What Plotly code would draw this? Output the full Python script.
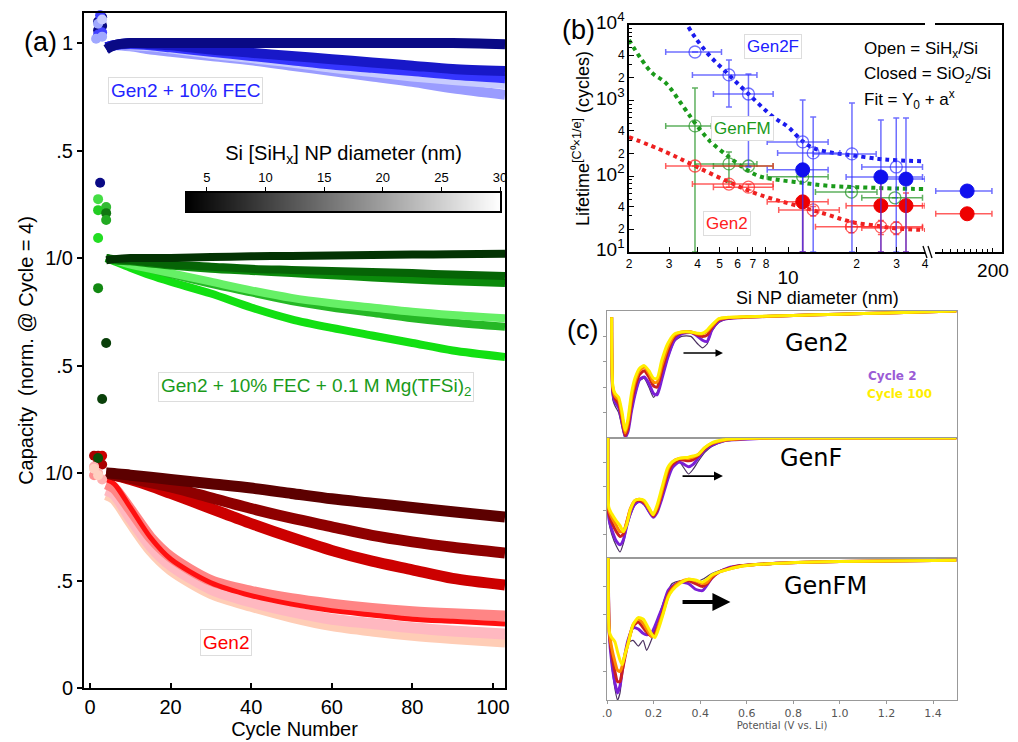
import math
import plotly.graph_objects as go

W, H = 1018, 742


def PX(x):
    return x / W


def PY(y):
    return 1 - y / H


# ---------------- Panel (a) data ----------------
cycles = [4, 6, 10, 15, 20, 30, 40, 50, 60, 70, 80, 90, 103]

# Gen2 + 10% FEC (stacked with offset 2)
blue_vals = {
    "periwinkle": [0.98, 0.99, 0.985, 0.97, 0.96, 0.94, 0.92, 0.895, 0.87, 0.845, 0.82, 0.79, 0.76],
    "verylight": [0.98, 0.99, 0.99, 0.985, 0.975, 0.95, 0.93, 0.91, 0.885, 0.865, 0.845, 0.828, 0.81],
    "blue": [0.98, 0.99, 0.995, 0.99, 0.98, 0.96, 0.94, 0.92, 0.90, 0.885, 0.87, 0.853, 0.837],
    "darkblue": [0.98, 0.99, 1.0, 0.995, 0.99, 0.97, 0.955, 0.94, 0.925, 0.91, 0.895, 0.88, 0.87],
    "navy": [0.97, 0.99, 1.0, 1.0, 1.0, 1.0, 1.0, 1.0, 1.0, 1.0, 1.0, 1.0, 0.995],
}
blue_names = ["periwinkle", "verylight", "blue", "darkblue", "navy"]
blue_colors = ["#9a9cff", "#c8ccff", "#3535ff", "#1818c8", "#0a0a85"]
blue_early_x = [2, 3, 3, 2, 2, 3, 2.5, 1.5, 2, 3, 3, 2.5]
blue_early_y = [1.10, 1.08, 1.12, 1.06, 1.04, 1.05, 1.13, 1.02, 1.09, 1.03, 1.11, 0.35]
blue_early_c = ["#0a0a85", "#0a0a85", "#0a0a85", "#0a0a85", "#4040ff", "#4040ff", "#4040ff",
                "#a0a8ff", "#a0a8ff", "#a0a8ff", "#c8ccff", "#0a0a85"]

# Gen2 + 10% FEC + 0.1 M Mg(TFSi)2 (offset 1)
green_names = ["lime", "medium", "light", "green", "darkgreen", "darkest"]
green_colors = ["#12e012", "#25b825", "#66f066", "#0b8a0b", "#066406", "#033303"]
green_vals = {
    "lime": [1.0, 0.985, 0.955, 0.92, 0.89, 0.835, 0.77, 0.715, 0.675, 0.64, 0.605, 0.57, 0.54],
    "medium": [1.0, 0.99, 0.97, 0.95, 0.925, 0.88, 0.84, 0.80, 0.77, 0.745, 0.72, 0.70, 0.68],
    "light": [1.0, 0.99, 0.97, 0.95, 0.93, 0.89, 0.85, 0.815, 0.79, 0.77, 0.75, 0.735, 0.72],
    "green": [1.0, 0.99, 0.985, 0.975, 0.965, 0.95, 0.94, 0.93, 0.92, 0.91, 0.90, 0.892, 0.884],
    "darkgreen": [1.0, 0.995, 0.99, 0.98, 0.97, 0.96, 0.95, 0.945, 0.94, 0.935, 0.93, 0.923, 0.916],
    "darkest": [0.99, 0.995, 1.0, 1.0, 1.0, 1.005, 1.008, 1.01, 1.012, 1.014, 1.016, 1.018, 1.02],
}
green_early_x = [2, 4, 2, 4, 4, 2, 2, 4, 3, 2]
green_early_y = [1.274, 1.237, 1.223, 1.209, 1.177, 1.093, 0.86, 0.605, 0.344, 0.07]
green_early_c = ["#44dd44", "#33bb33", "#22cc22", "#117711", "#22aa22", "#22dd22",
                 "#118811", "#0a400a", "#0a400a", "#0a500a"]

# Gen2 (offset 0)
red_names = ["peach", "pink", "salmon", "brightred", "red", "darkred", "maroon"]
red_colors = ["#ffcdb6", "#ffb8c0", "#ff8585", "#ff1010", "#cc0000", "#8e0000", "#5c0000"]
red_widths = [11, 11, 11, 5, 11, 11, 11]
red_vals = {
    "peach": [0.90, 0.88, 0.77, 0.64, 0.55, 0.44, 0.38, 0.33, 0.29, 0.265, 0.245, 0.23, 0.214],
    "pink": [0.92, 0.90, 0.79, 0.66, 0.57, 0.46, 0.40, 0.355, 0.32, 0.30, 0.28, 0.265, 0.251],
    "salmon": [0.95, 0.93, 0.83, 0.70, 0.61, 0.50, 0.45, 0.415, 0.39, 0.37, 0.355, 0.345, 0.335],
    "brightred": [0.97, 0.95, 0.84, 0.70, 0.60, 0.49, 0.43, 0.39, 0.36, 0.34, 0.32, 0.31, 0.298],
    "red": [1.0, 0.99, 0.97, 0.94, 0.905, 0.835, 0.765, 0.70, 0.64, 0.59, 0.55, 0.51, 0.479],
    "darkred": [1.0, 0.99, 0.975, 0.955, 0.935, 0.885, 0.835, 0.79, 0.75, 0.71, 0.68, 0.655, 0.628],
    "maroon": [1.0, 0.998, 0.99, 0.98, 0.97, 0.95, 0.93, 0.905, 0.88, 0.86, 0.84, 0.82, 0.795],
}
red_early_x = [1, 2, 3, 2, 3, 1, 2, 3, 1, 1, 2]
red_early_y = [1.08, 1.08, 1.08, 1.05, 1.04, 1.03, 1.00, 0.97, 0.99, 1.02, 0.99]
red_early_c = ["#aa0000", "#aa0000", "#cc0000", "#8e0000", "#aa0000", "#ffb0b0",
               "#ffb0b0", "#ffb0b0", "#ff9090", "#ffd0c0", "#ffd0c0"]

a_yticks = [0, 0.5, 1, 1.5, 2, 2.5, 3]
a_yticktext = ["0", ".5", "1/0", ".5", "1/0", ".5", "1"]
a_xticks = [0, 20, 40, 60, 80, 100]
cbar_ticks = [5, 10, 15, 20, 25, 30]
cbar_range = [3.3, 30]

# ---------------- Panel (b) data ----------------
b_open_blue = dict(x=[3.9, 5.5, 6.7, 11.6, 12.9, 19.1, 29.9],
                   y=[4400, 2190, 1225, 285, 204, 198, 133],
                   xlo=[2.9, 3.8, 4.7, 8.1, 9.0, 12.9, 21.1],
                   xhi=[5.1, 7.3, 8.6, 15.0, 16.9, 24.4, 39.0],
                   ylo=[4400, 826, 133, 10, 10, 10, 10],
                   yhi=[4400, 3450, 2250, 1020, 610, 934, 590])
b_closed_blue = dict(x=[11.6, 25.6, 33.0], y=[122, 98, 92],
                     xlo=[8.1, 18.0, 25.6], xhi=[15.0, 39.0, 40.0],
                     ylo=[10, 10, 10], yhi=[122, 556, 590])
b_open_green = dict(x=[3.9, 5.5, 6.7, 11.6, 19.0, 29.5],
                    y=[464, 146, 137, 99, 62, 52],
                    xlo=[2.9, 3.9, 4.7, 8.1, 13.2, 21.1],
                    xhi=[4.6, 7.3, 8.6, 15.0, 24.6, 39.0],
                    ylo=[10, 84, 137, 99, 62, 52],
                    yhi=[1470, 209, 137, 99, 62, 52])
b_open_red = dict(x=[3.9, 5.5, 6.7, 12.9, 19.0, 25.6, 29.9],
                  y=[137, 79, 72, 36, 21.5, 21.5, 20.8],
                  xlo=[2.9, 3.8, 4.7, 9.1, 13.2, 18.0, 21.1],
                  xhi=[8.6, 8.6, 8.6, 16.8, 25.5, 39.0, 39.0],
                  ylo=[137, 72, 66, 30, 18, 17, 17],
                  yhi=[137, 86, 78, 40, 25, 26, 25])
b_closed_red = dict(x=[11.6, 25.6, 33.0], y=[46, 41, 41],
                    xlo=[8.1, 18.0, 25.6], xhi=[15.0, 39.0, 40.0],
                    ylo=[10, 10, 10], yhi=[54, 112, 60])
b_far_blue = dict(x=[154], y=[64], xlo=[112], xhi=[198], ylo=[64], yhi=[64])
b_far_red = dict(x=[154], y=[32], xlo=[112], xhi=[198], ylo=[32], yhi=[32])

fit_blue_x = [3.65, 3.9, 4.5, 5.5, 6.7, 8.6, 10, 11.6, 12.9, 15.8, 19, 25, 30, 40]
fit_blue_y = [9400, 6900, 4000, 2190, 1225, 610, 450, 290, 237, 204, 190, 170, 163, 158]
fit_green_x = [2.0, 2.5, 2.9, 3.5, 3.9, 4.5, 5.5, 6.5, 7.5, 9, 11.6, 15, 20, 30, 40]
fit_green_y = [6340, 2400, 1715, 800, 507, 300, 180, 125, 100, 90, 82, 75, 72, 69, 68]
fit_red_x = [2, 2.9, 3.9, 5.5, 7.5, 11.6, 15, 19, 25, 30, 40]
fit_red_y = [330, 210, 137, 84, 57, 39, 31, 25, 22, 20.5, 19.5]

b_xticks = [2, 3, 4, 5, 6, 7, 8, 10, 20, 30, 40]
b_xticktext = ["2", "3", "4", "5", "6", "7", "8",
               "<br><span style='font-size:19px'>10</span>", "2", "3", "4"]
b_yticks = [10, 20, 40, 100, 200, 400, 1000, 2000, 4000, 10000]
b_yticktext = ["<span style='font-size:19px'>10<sup>1</sup></span>", "2", "4",
               "<span style='font-size:19px'>10<sup>2</sup></span>", "2", "4",
               "<span style='font-size:19px'>10<sup>3</sup></span>", "2", "4",
               "<span style='font-size:19px'>10<sup>4</sup></span>"]
b_yminor = [30, 50, 60, 70, 80, 90, 300, 500, 600, 700, 800, 900,
            3000, 5000, 6000, 7000, 8000, 9000]
b_x3ticks = [200]
b_x3ticktext = ["200"]
b_x3minor = [110, 120, 130, 140, 150, 160, 170, 180, 190]

# ---------------- Panel (c) data ----------------
c_curve_colors = ["#4a3060", "#7a1fd6", "#cc2020", "#ff8c00", "#ffee00"]
c_curve_widths = [1.2, 3, 3, 3, 3]

c_top_V = [0.02, 0.025, 0.035, 0.05, 0.065, 0.078, 0.09, 0.105, 0.12, 0.14, 0.16, 0.18, 0.2, 0.215,
           0.235, 0.26, 0.29, 0.32, 0.36, 0.39, 0.41, 0.43, 0.45, 0.48, 0.52, 0.6, 0.8, 1.0, 1.2, 1.5]
c_top = [
    [0.95, 0.3, 0.25, 0.2, 0.08, 0.0, 0.04, 0.2, 0.33, 0.45, 0.47, 0.4, 0.32, 0.36, 0.46, 0.62, 0.76,
     0.8, 0.8, 0.74, 0.71, 0.74, 0.84, 0.91, 0.94, 0.95, 0.965, 0.975, 0.985, 1.0],
    [0.95, 0.35, 0.28, 0.24, 0.12, 0.01, 0.05, 0.21, 0.34, 0.46, 0.48, 0.43, 0.35, 0.34, 0.46, 0.63, 0.77,
     0.82, 0.83, 0.8, 0.77, 0.76, 0.85, 0.92, 0.94, 0.95, 0.965, 0.975, 0.985, 1.0],
    [0.95, 0.38, 0.31, 0.27, 0.15, 0.02, 0.08, 0.27, 0.4, 0.5, 0.53, 0.48, 0.41, 0.4, 0.53, 0.68, 0.8,
     0.83, 0.835, 0.81, 0.8, 0.81, 0.87, 0.93, 0.945, 0.952, 0.965, 0.975, 0.985, 1.0],
    [0.95, 0.4, 0.33, 0.3, 0.17, 0.04, 0.12, 0.31, 0.44, 0.53, 0.56, 0.51, 0.44, 0.44, 0.57, 0.71, 0.81,
     0.835, 0.835, 0.82, 0.82, 0.84, 0.88, 0.935, 0.948, 0.953, 0.965, 0.975, 0.985, 1.0],
    [0.95, 0.41, 0.35, 0.32, 0.2, 0.06, 0.15, 0.35, 0.47, 0.55, 0.57, 0.53, 0.47, 0.47, 0.61, 0.74, 0.82,
     0.835, 0.835, 0.825, 0.825, 0.85, 0.89, 0.94, 0.95, 0.955, 0.965, 0.975, 0.985, 1.0],
]
c_mid_V = [0.004, 0.008, 0.02, 0.04, 0.056, 0.07, 0.085, 0.1, 0.12, 0.14, 0.16, 0.18, 0.198, 0.215,
           0.235, 0.26, 0.28, 0.31, 0.35, 0.37, 0.39, 0.42, 0.45, 0.5, 0.55, 0.7, 1.0, 1.5]
c_mid = [
    [1.0, 0.3, 0.2, 0.1, 0.05, 0.12, 0.25, 0.35, 0.44, 0.47, 0.44, 0.38, 0.34, 0.4, 0.5, 0.66, 0.76,
     0.8, 0.7, 0.74, 0.8, 0.88, 0.93, 0.97, 0.985, 1.0, 1.0, 1.0],
    [1.0, 0.33, 0.24, 0.14, 0.11, 0.15, 0.27, 0.37, 0.45, 0.47, 0.45, 0.39, 0.34, 0.38, 0.49, 0.65, 0.75,
     0.8, 0.76, 0.78, 0.83, 0.9, 0.94, 0.975, 0.985, 1.0, 1.0, 1.0],
    [1.0, 0.37, 0.3, 0.22, 0.18, 0.2, 0.3, 0.4, 0.47, 0.48, 0.46, 0.41, 0.35, 0.4, 0.53, 0.7, 0.78,
     0.82, 0.81, 0.82, 0.85, 0.91, 0.95, 0.98, 0.99, 1.0, 1.0, 1.0],
    [1.0, 0.4, 0.34, 0.27, 0.22, 0.22, 0.3, 0.41, 0.48, 0.49, 0.47, 0.41, 0.36, 0.42, 0.55, 0.73, 0.8,
     0.83, 0.83, 0.84, 0.86, 0.92, 0.955, 0.98, 0.99, 1.0, 1.0, 1.0],
    [1.0, 0.42, 0.37, 0.31, 0.27, 0.22, 0.28, 0.4, 0.48, 0.49, 0.48, 0.42, 0.36, 0.44, 0.58, 0.75, 0.8,
     0.83, 0.84, 0.85, 0.86, 0.92, 0.96, 0.985, 0.995, 1.0, 1.0, 1.0],
]
c_bot_V = [0.005, 0.01, 0.02, 0.034, 0.045, 0.056, 0.065, 0.077, 0.09, 0.112, 0.134, 0.155, 0.17, 0.19,
           0.206, 0.225, 0.24, 0.262, 0.28, 0.313, 0.35, 0.38, 0.41, 0.43, 0.45, 0.48, 0.52, 0.57, 0.7,
           1.0, 1.5]
c_bot = [
    [1.0, 0.45, 0.25, 0.08, 0.0, 0.05, 0.2, 0.32, 0.4, 0.42, 0.38, 0.42, 0.35, 0.42, 0.5, 0.6, 0.68,
     0.77, 0.82, 0.84, 0.84, 0.83, 0.85, 0.87, 0.89, 0.91, 0.93, 0.95, 0.965, 0.975, 0.985],
    [1.0, 0.46, 0.27, 0.12, 0.05, 0.1, 0.2, 0.32, 0.42, 0.51, 0.5, 0.47, 0.46, 0.47, 0.52, 0.6, 0.66,
     0.77, 0.8, 0.83, 0.82, 0.78, 0.77, 0.81, 0.86, 0.9, 0.93, 0.945, 0.96, 0.975, 0.985],
    [1.0, 0.47, 0.33, 0.2, 0.13, 0.13, 0.2, 0.3, 0.4, 0.52, 0.55, 0.51, 0.48, 0.45, 0.47, 0.55, 0.62,
     0.74, 0.79, 0.83, 0.84, 0.82, 0.8, 0.82, 0.86, 0.9, 0.925, 0.945, 0.96, 0.975, 0.985],
    [1.0, 0.48, 0.37, 0.27, 0.21, 0.2, 0.24, 0.32, 0.4, 0.53, 0.57, 0.54, 0.5, 0.45, 0.45, 0.54, 0.61,
     0.73, 0.78, 0.83, 0.85, 0.84, 0.82, 0.83, 0.87, 0.9, 0.92, 0.94, 0.96, 0.975, 0.985],
    [1.0, 0.48, 0.44, 0.41, 0.34, 0.28, 0.25, 0.32, 0.39, 0.53, 0.58, 0.57, 0.53, 0.47, 0.44, 0.52, 0.6,
     0.72, 0.77, 0.82, 0.85, 0.845, 0.83, 0.85, 0.88, 0.9, 0.92, 0.94, 0.96, 0.975, 0.985],
]
c_xticks = [0, 0.2, 0.4, 0.6, 0.8, 1.0, 1.2, 1.4]
c_xticktext = [".0", "0.2", "0.4", "0.6", "0.8", "1.0", "1.2", "1.4"]

# ---------------- Build figure ----------------
fig = go.Figure()
FONT = "Liberation Sans"
MPL = "DejaVu Sans"


def add_group(names, colors, vals, offset, widths):
    for n, c, w in zip(names, colors, widths):
        fig.add_trace(go.Scatter(
            x=cycles, y=[v + offset for v in vals[n]], mode="lines",
            line=dict(color=c, width=w, shape="spline", smoothing=0.8),
            xaxis="x", yaxis="y", hoverinfo="skip"))


add_group(red_names, red_colors, red_vals, 0, red_widths)
add_group(green_names, green_colors, green_vals, 1, [8] * 6)
add_group(blue_names, blue_colors, blue_vals, 2, [10] * 5)

for ex, ey, ec, off in [(red_early_x, red_early_y, red_early_c, 0),
                        (green_early_x, green_early_y, green_early_c, 1),
                        (blue_early_x, blue_early_y, blue_early_c, 2)]:
    fig.add_trace(go.Scatter(
        x=ex, y=[v + off for v in ey], mode="markers",
        marker=dict(color=ec, size=10, line=dict(width=0)),
        cliponaxis=False, xaxis="x", yaxis="y", hoverinfo="skip"))

# colour scale bar drawn as a smooth heatmap on its own axis
fig.add_trace(go.Heatmap(
    x=cbar_range, y=[0], z=[cbar_range], zsmooth="best",
    colorscale=[[0, "black"], [1, "white"]], showscale=False,
    xaxis="x7", yaxis="y7", hoverinfo="skip"))


# Panel (b)
def err_arrays(d):
    ex = dict(type="data", symmetric=False,
              array=[h - v for v, h in zip(d["x"], d["xhi"])],
              arrayminus=[v - l for v, l in zip(d["x"], d["xlo"])])
    ey = dict(type="data", symmetric=False,
              array=[h - v for v, h in zip(d["y"], d["yhi"])],
              arrayminus=[v - l for v, l in zip(d["y"], d["ylo"])])
    return ex, ey


def add_b(d, color, ecolor, filled, xa="x2", ya="y2"):
    ex, ey = err_arrays(d)
    ex.update(color=ecolor, thickness=1.5, width=3)
    ey.update(color=ecolor, thickness=1.5, width=3)
    if filled:
        marker = dict(symbol="circle", size=14, color=color, line=dict(color=color, width=1))
    else:
        marker = dict(symbol="circle-open", size=12, color=ecolor, line=dict(width=1.3))
    fig.add_trace(go.Scatter(x=d["x"], y=d["y"], mode="markers", marker=marker,
                             error_x=ex, error_y=ey, xaxis=xa, yaxis=ya, hoverinfo="skip"))


for fx, fy, fc in [(fit_blue_x, fit_blue_y, "#1a1aee"), (fit_green_x, fit_green_y, "#1a9a1a"),
                   (fit_red_x, fit_red_y, "#ee2020")]:
    fig.add_trace(go.Scatter(x=fx, y=fy, mode="lines",
                             line=dict(color=fc, width=4, dash="dot", shape="spline"),
                             xaxis="x2", yaxis="y2", hoverinfo="skip"))

add_b(b_open_green, "#1a9a1a", "rgba(40,150,40,0.75)", False)
add_b(b_open_red, "#ff2020", "rgba(255,40,40,0.75)", False)
add_b(b_open_blue, "#2020ff", "rgba(50,50,255,0.7)", False)
add_b(b_closed_red, "#ee0000", "rgba(255,40,40,0.75)", True)
add_b(b_closed_blue, "#1010ee", "rgba(50,50,255,0.7)", True)
add_b(b_far_blue, "#1010ee", "rgba(50,50,255,0.7)", True, "x3", "y3")
add_b(b_far_red, "#ee0000", "rgba(255,40,40,0.75)", True, "x3", "y3")

# Panel (c)
for V, curves, n in [(c_top_V, c_top, 4), (c_mid_V, c_mid, 5), (c_bot_V, c_bot, 6)]:
    for ys, col, w in zip(curves, c_curve_colors, c_curve_widths):
        fig.add_trace(go.Scatter(x=V, y=ys, mode="lines",
                                 line=dict(color=col, width=w, shape="spline", smoothing=0.6),
                                 xaxis="x%d" % n, yaxis="y%d" % n, hoverinfo="skip"))

# ---------------- Axes ----------------
axis_a = dict(showline=True, linewidth=2, linecolor="black", mirror=True, showgrid=False,
              zeroline=False, tickcolor="black", tickwidth=1.5)
layout = dict(
    width=W, height=H, margin=dict(l=0, r=0, t=0, b=0, autoexpand=False),
    paper_bgcolor="white", plot_bgcolor="rgba(0,0,0,0)", showlegend=False,
    font=dict(family=FONT, color="black"),
    xaxis=dict(axis_a, domain=[PX(84), PX(505)], range=[-1.5, 103], anchor="y",
               tickvals=a_xticks, ticks="inside", ticklen=5, tickfont=dict(size=20),
               title=dict(text="Cycle Number", font=dict(size=20), standoff=4)),
    yaxis=dict(axis_a, domain=[PY(688), PY(13)], range=[0, 3.14], anchor="x",
               tickvals=a_yticks, ticktext=a_yticktext, ticks="outside", ticklen=5,
               tickfont=dict(size=20),
               title=dict(text="Capacity  (norm. @ Cycle = 4)", font=dict(size=20), standoff=6)),
    xaxis7=dict(domain=[PX(187), PX(500)], range=cbar_range, anchor="y7", side="top",
                showline=True, linewidth=1.5, linecolor="black", mirror=True, showgrid=False,
                zeroline=False, tickvals=cbar_ticks, ticks="outside", ticklen=4,
                tickcolor="black", tickfont=dict(size=13),
                title=dict(text="Si [SiH<sub>x</sub>] NP diameter (nm)", font=dict(size=20),
                           standoff=4)),
    yaxis7=dict(domain=[PY(211), PY(193)], range=[-0.5, 0.5], anchor="x7", showline=True,
                linewidth=1.5, linecolor="black", mirror=True, showgrid=False, zeroline=False,
                showticklabels=False, ticks=""),
    xaxis2=dict(axis_a, type="log", domain=[PX(629), PX(925)],
                range=[math.log10(2), math.log10(40)], anchor="y2",
                tickvals=b_xticks, ticktext=b_xticktext, ticks="inside", ticklen=5,
                tickfont=dict(size=12), tickwidth=1),
    yaxis2=dict(axis_a, type="log", domain=[PY(252), PY(25)], range=[1, 4], anchor="x2",
                mirror=False, tickvals=b_yticks, ticktext=b_yticktext, ticks="inside",
                ticklen=5, tickfont=dict(size=12), tickwidth=1,
                minor=dict(ticks="inside", ticklen=3, tickcolor="black", tickvals=b_yminor),
                title=dict(text="Lifetime<sup>[C⁰×1/e]</sup> (cycles)", font=dict(size=18),
                           standoff=2)),
    xaxis3=dict(axis_a, type="log", domain=[PX(935), PX(1002)], range=[2.046, 2.341],
                anchor="y3", tickvals=b_x3ticks, ticktext=b_x3ticktext, ticks="inside",
                ticklen=4, tickfont=dict(size=19), tickwidth=1,
                minor=dict(ticks="inside", ticklen=3, tickcolor="black", tickvals=b_x3minor)),
    yaxis3=dict(axis_a, type="log", domain=[PY(252), PY(25)], range=[1, 4], anchor="x3",
                side="right", mirror=False, showticklabels=False, ticks=""),
)
axis_c = dict(showline=True, linewidth=1, linecolor="#999999", mirror=True, showgrid=False,
              zeroline=False, range=[0, 1.503])
for n, dom in [(4, [PY(438), PY(311)]), (5, [PY(558), PY(438)]), (6, [PY(700), PY(558)])]:
    layout["xaxis%d" % n] = dict(axis_c, domain=[PX(607), PX(957)], anchor="y%d" % n,
                                 tickvals=c_xticks, ticktext=c_xticktext,
                                 ticks="outside" if n == 6 else "", ticklen=3,
                                 tickcolor="#999999",
                                 showticklabels=(n == 6),
                                 tickfont=dict(size=11, family=MPL, color="#555555"))
    layout["yaxis%d" % n] = dict(axis_c, domain=dom, range=[0, 1], anchor="x%d" % n,
                                 showticklabels=False, ticks="outside", ticklen=3,
                                 tickcolor="#999999", tickvals=[0.2, 0.4, 0.6, 0.8])
layout["xaxis6"]["title"] = dict(text="Potential (V vs. Li)", standoff=2,
                                 font=dict(size=10, family=MPL, color="#555555"))
fig.update_layout(**layout)

# ---------------- Annotations ----------------
ann = []


def txt(x, y, s, size, color="black", family=FONT, box=False, **kw):
    d = dict(x=PX(x), y=PY(y), xref="paper", yref="paper", text=s, showarrow=False,
             font=dict(size=size, color=color, family=family), xanchor="center", yanchor="middle")
    if box:
        d.update(bgcolor="white", bordercolor="#dddddd", borderwidth=1, borderpad=2)
    d.update(kw)
    ann.append(d)


txt(40, 42, "(a)", 27)
txt(578, 30, "(b)", 27)
txt(582, 330, "(c)", 27)
txt(185, 91, "Gen2 + 10% FEC", 19, "#2424ff", box=True)
txt(316, 387, "Gen2 + 10% FEC + 0.1 M Mg(TFSi)<sub>2</sub>", 19, "#1a9a1a", box=True)
txt(226, 642, "Gen2", 19, "#ff0000", box=True)
txt(773, 47, "Gen2F", 17, "#2020ff", box=True)
txt(742, 128, "GenFM", 17, "#1a9a1a", box=True)
txt(727, 223, "Gen2", 17, "#ff2020", box=True)
txt(862, 50, "Open = SiH<sub>x</sub>/Si", 17, xanchor="left")
txt(862, 75, "Closed = SiO<sub>2</sub>/Si", 17, xanchor="left")
txt(862, 99, "Fit = Y<sub>0</sub> + a<sup>x</sup>", 17, xanchor="left")
txt(817, 298, "Si NP diameter (nm)", 18)
txt(817, 343, "Gen2", 24, family=MPL)
txt(811, 458, "GenF", 24, family=MPL)
txt(825, 586, "GenFM", 24, family=MPL)
txt(892, 376, "<b>Cycle 2</b>", 12, "#9a5bd6", family=MPL)
txt(899, 394, "<b>Cycle 100</b>", 12, "#ffee00", family=MPL)

for n, yv, x0, x1, w, size in [(4, 0.67, 0.322, 0.498, 1.5, 1.0), (5, 0.683, 0.318, 0.498, 1.8, 1.0),
                               (6, 0.69, 0.318, 0.53, 4, 0.9)]:
    ann.append(dict(x=x1, y=yv, ax=x0, ay=yv, xref="x%d" % n, yref="y%d" % n,
                    axref="x%d" % n, ayref="y%d" % n, showarrow=True, arrowhead=2,
                    arrowwidth=w, arrowsize=size, arrowcolor="black", text=""))
fig.update_layout(annotations=ann)

# axis break marks on panel (b)
for x0 in (923, 928):
    fig.add_shape(type="line", xref="paper", yref="paper", x0=PX(x0), y0=PY(246),
                  x1=PX(x0 + 4), y1=PY(258), line=dict(color="black", width=1.3))

fig.write_html("out.html", config={"displayModeBar": False},
               post_script="document.body.style.margin='0';"
                           "document.body.style.overflow='hidden';")
